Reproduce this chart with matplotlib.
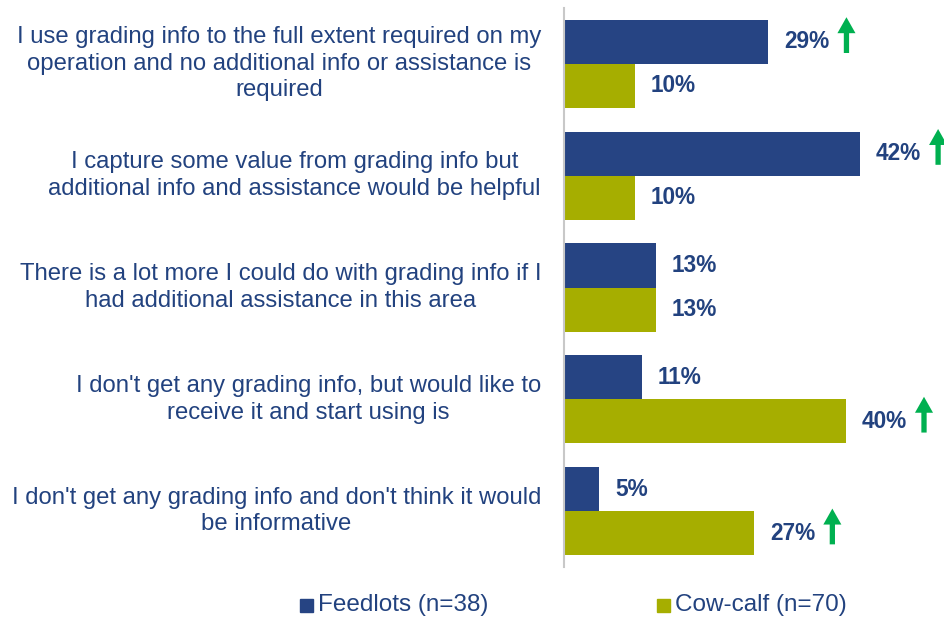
import matplotlib.pyplot as plt
from matplotlib.patches import Rectangle
from matplotlib.transforms import offset_copy

categories = [
    "I use grading info to the full extent required on my\noperation and no additional info or assistance is\nrequired",
    "I capture some value from grading info but\nadditional info and assistance would be helpful",
    "There is a lot more I could do with grading info if I\nhad additional assistance in this area",
    "I don't get any grading info, but would like to\nreceive it and start using is",
    "I don't get any grading info and don't think it would\nbe informative",
]
feedlots = [29, 42, 13, 11, 5]
cow_calf = [10, 10, 13, 40, 27]
series_names = ["Feedlots (n=38)", "Cow-calf (n=70)"]
# rows flagged with an up arrow, per series
feedlot_up = [True, True, False, False, False]
cowcalf_up = [False, False, False, True, True]

NAVY = "#264483"
OLIVE = "#A6AE00"
TEXT = "#22427F"
GREEN = "#00B050"

plt.rcParams['font.family'] = ['Liberation Sans', 'DejaVu Sans']

fig = plt.figure(figsize=(9.44, 6.17), dpi=100)
ax = fig.add_axes([564 / 944, 1 - 567 / 617, 376 / 944, 559 / 617])

h = 0.395
ys = list(range(len(categories)))
ax.barh([y - h / 2 for y in ys], feedlots, height=h, color=NAVY)
ax.barh([y + h / 2 for y in ys], cow_calf, height=h, color=OLIVE)

ax.set_xlim(0, 376 / 7.05)
ax.set_ylim(len(categories) - 0.5, -0.5)

for sp in ["top", "right", "bottom"]:
    ax.spines[sp].set_visible(False)
ax.spines["left"].set_color("#C8C8C8")
ax.spines["left"].set_linewidth(1.5)
ax.set_xticks([])
ax.set_yticks([])


def label_and_arrow(value, y, up):
    tr = offset_copy(ax.transData, fig=fig, x=16 * 0.72, y=0, units='points')
    ax.text(value, y, f"{value}%", transform=tr, ha='left', va='center',
            fontsize=16.3, fontweight='bold', color=TEXT)
    if up:
        x_arrow = value + 78 / 7.05
        ax.annotate('', xy=(x_arrow, y - 0.22), xytext=(x_arrow, y + 0.1),
                    xycoords='data', textcoords='data',
                    arrowprops=dict(arrowstyle='simple,head_length=1.15,head_width=1.3,tail_width=0.38',
                                    mutation_scale=10, color=GREEN, lw=0,
                                    shrinkA=0, shrinkB=0))


for y in ys:
    label_and_arrow(feedlots[y], y - h / 2, feedlot_up[y])
    label_and_arrow(cow_calf[y], y + h / 2, cowcalf_up[y])

# category labels to the left of the axis line
lab_tr = offset_copy(ax.transData, fig=fig, x=-23 * 0.72, y=0, units='points')
for y, cat in zip(ys, categories):
    ax.text(0, y, cat, transform=lab_tr, ha='right', va='center',
            multialignment='center', fontsize=17.2, color=TEXT,
            linespacing=1.26)

# legend
for x0, color, name in [(300, NAVY, series_names[0]), (657, OLIVE, series_names[1])]:
    fig.patches.append(Rectangle((x0 / 944, 1 - 612 / 617), 13 / 944, 13 / 617,
                                 transform=fig.transFigure, color=color))
    fig.text((x0 + 18) / 944, 1 - 605 / 617, name, ha='left', va='center',
             fontsize=17.5, color=TEXT)

fig.savefig("out.png", dpi=100)
